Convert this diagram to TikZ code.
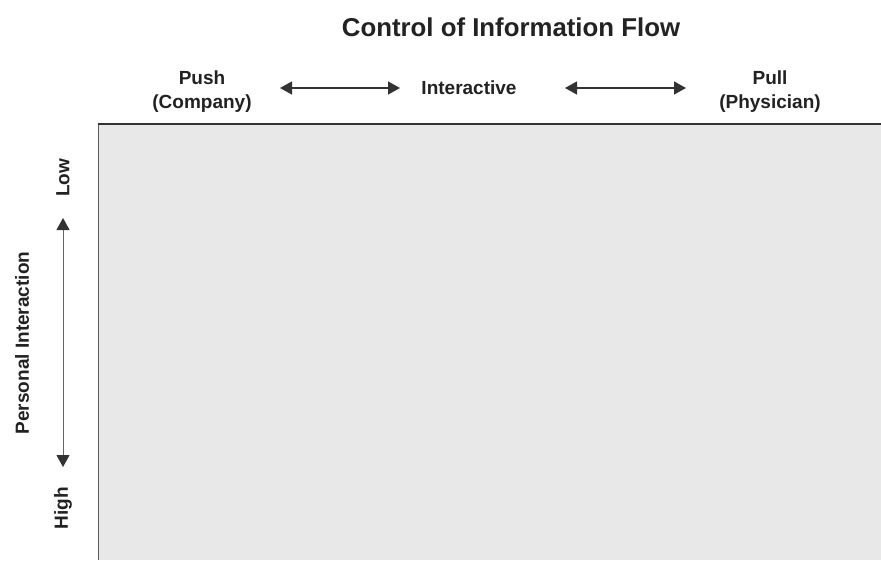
\documentclass[tikz,border=0pt]{standalone}
\usepackage{fontspec}
\setmainfont{Liberation Sans}
\usetikzlibrary{arrows.meta}
\definecolor{txt}{HTML}{222222}
\definecolor{panel}{HTML}{E8E8E8}
\definecolor{arr}{HTML}{333333}
\tikzset{
  lbl/.style={font=\fontsize{19}{24}\selectfont\bfseries, text=txt, align=center, inner sep=0pt},
  ttl/.style={font=\fontsize{25.8}{30}\selectfont\bfseries, text=txt, inner sep=0pt},
  harrow/.style={draw=arr, line width=1.3pt, {Triangle[length=12pt,width=13pt]}-{Triangle[length=12pt,width=13pt]}},
  varrow/.style={draw=gray!80!black, line width=1pt, arrows={{Triangle[length=12pt,width=13pt,color=arr,fill=arr]}-{Triangle[length=12pt,width=13pt,color=arr,fill=arr]}}}
}
\begin{document}
\begin{tikzpicture}[x=1pt,y=-1pt]
\useasboundingbox (0,0) rectangle (881,560);
\fill[white] (0,0) rectangle (881,560);
% panel
\fill[panel] (98,124) rectangle (881,560);
\draw[draw=gray!70!black, line width=1pt] (98,124) -- (98,560);
\draw[draw=arr, line width=1.5pt] (97.5,124) -- (881,124);
% title
\node[ttl] (title) at (511,27) {Control of Information Flow};
% top labels
\node[lbl] (push) at (202,92) {Push\\(Company)};
\node[lbl] (inter) at (469,88) {Interactive};
\node[lbl] (pull) at (770,92) {Pull\\(Physician)};
\coordinate (a1s) at (280,88);
\coordinate (a1e) at (400,88);
\coordinate (a2s) at (565,88);
\coordinate (a2e) at (686,88);
\draw[harrow] (a1s) -- (a1e);
\draw[harrow] (a2s) -- (a2e);
% side labels
\node[lbl, rotate=90] (low) at (63,178) {Low};
\node[lbl, rotate=90] (high) at (63,508) {High};
\node[lbl, rotate=90] (pers) at (22,343) {Personal Interaction};
\coordinate (v1) at (63,218);
\coordinate (v2) at (63,467);
\draw[varrow] (v1) -- (v2);
\end{tikzpicture}
\end{document}
